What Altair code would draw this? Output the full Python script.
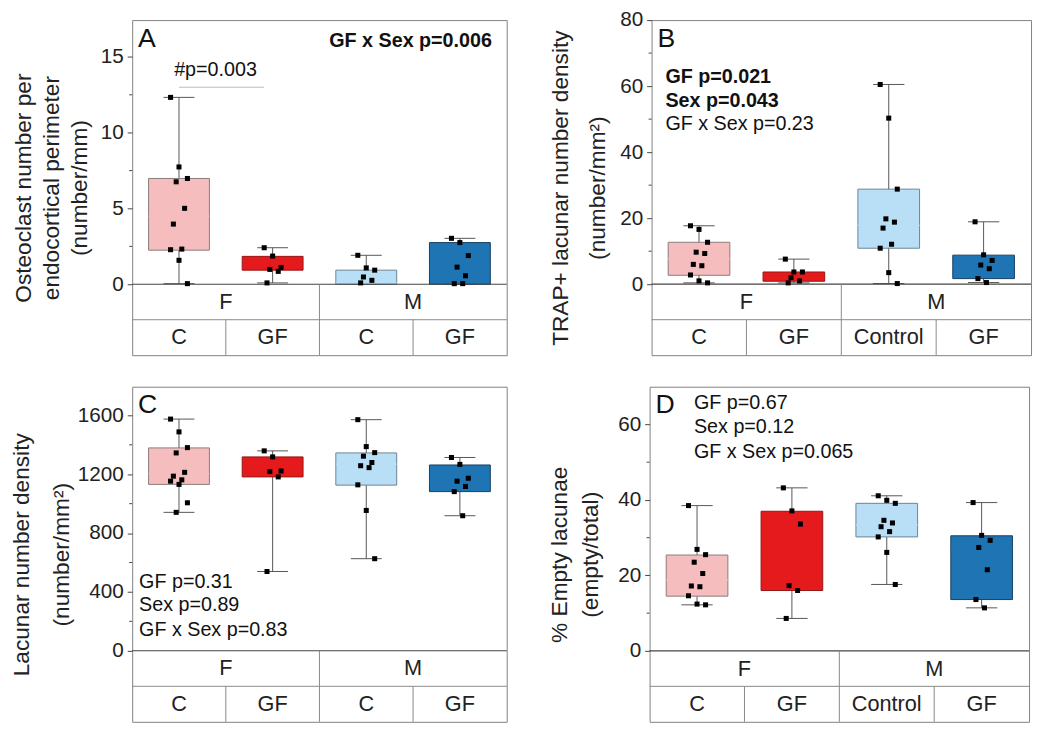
import altair as alt
import pandas as pd

FONT = "Liberation Sans"

# ---------------- data ----------------
group_keys = [0, 1, 2, 3]
sex_labels = ["F", "M"]
sub_labels_AC = ["C", "GF", "C", "GF"]
sub_labels_BD = ["C", "GF", "Control", "GF"]

fills = ["#f6bdbe", "#e41a1c", "#b9dff6", "#1f74b3"]
strokes = ["#8a7c7c", "#951515", "#6b8393", "#163e60"]

# Panel A: osteoclast number per endocortical perimeter
a_pts = [
    [12.33, 7.74, 6.98, 6.76, 5.01, 3.97, 2.32, 2.28, 1.58, 0.04],
    [2.41, 1.86, 1.11, 0.98, 0.85, 0.09],
    [1.91, 1.08, 0.93, 0.48, 0.26, 0.09],
    [3.03, 2.75, 1.89, 1.13, 0.56, 0.04, 0.04],
]
a_q1 = [2.25, 0.93, 0.0, 0.0]
a_med = [4.49, 1.08, 0.13, 1.11]
a_q3 = [6.98, 1.84, 0.93, 2.75]
a_lo = [0.04, 0.09, 0.0, 0.0]
a_hi = [12.33, 2.41, 1.91, 3.03]

# Panel B: TRAP+ lacunar number density
b_pts = [
    [17.7, 16.6, 12.7, 9.7, 9.3, 6.0, 5.6, 2.8, 1.0, 0.4],
    [7.6, 3.7, 3.7, 2.0, 1.0, 0.4],
    [60.5, 50.3, 28.8, 19.8, 18.8, 17.0, 12.1, 10.9, 3.5, 0.2],
    [18.9, 8.9, 7.2, 5.8, 4.7, 1.7, 0.5],
]
b_q1 = [2.7, 0.9, 10.9, 1.7]
b_med = [7.6, 2.4, 17.8, 5.8]
b_q3 = [12.7, 3.7, 28.8, 8.8]
b_lo = [0.4, 0.4, 0.2, 0.5]
b_hi = [17.7, 7.6, 60.5, 18.9]

# Panel C: lacunar number density
c_pts = [
    [1575, 1488, 1381, 1345, 1213, 1187, 1162, 1153, 1131, 1006, 941],
    [1359, 1318, 1222, 1218, 1182, 539],
    [1571, 1388, 1347, 1323, 1280, 1258, 1245, 1128, 954, 626],
    [1314, 1267, 1173, 1153, 1117, 1082, 918],
]
c_q1 = [1131, 1182, 1126, 1082]
c_med = [1204, 1218, 1269, 1151]
c_q3 = [1379, 1318, 1345, 1263]
c_lo = [941, 539, 626, 918]
c_hi = [1575, 1359, 1571, 1314]

# Panel D: % empty lacunae
d_pts = [
    [38.5, 26.9, 25.5, 23.5, 20.5, 17.2, 17.0, 14.6, 12.4, 12.2],
    [43.2, 37.1, 33.6, 17.3, 16.0, 8.6],
    [41.1, 39.9, 39.1, 34.6, 33.9, 32.9, 31.6, 30.2, 26.1, 17.6],
    [39.3, 30.6, 29.3, 27.4, 21.5, 13.6, 11.4],
]
d_q1 = [14.5, 16.0, 30.2, 13.6]
d_med = [18.8, 25.4, 33.4, 27.3]
d_q3 = [25.4, 37.0, 39.1, 30.5]
d_lo = [12.2, 8.6, 17.6, 11.4]
d_hi = [38.5, 43.2, 41.1, 39.3]

H = 340  # panel frame height (plot + category table)


def panel(pts, q1, med, q3, lo, hi, subs, ydom, major, minor, title,
          line_h, title_pad, width, letter, notes, sig=None):
    xs = alt.Scale(domain=[0, 4], nice=False, zero=False)
    ys = alt.Scale(domain=ydom, nice=False, zero=False)
    yaxis = alt.Axis(values=major, format="d", tickSize=5, tickColor="#444",
                     domain=False, grid=False, labelFontSize=21,
                     labelColor="#222", labelPadding=4, labelFont=FONT,
                     title=title, titleFontSize=23, titleFontWeight="normal",
                     titleColor="#222", titleFont=FONT, titlePadding=title_pad,
                     titleLineHeight=line_h)

    def X(f):
        return alt.X(f, type="quantitative", scale=xs, axis=None)

    def Y(f):
        return alt.Y(f, type="quantitative", scale=ys, axis=yaxis)

    col_fill = alt.Color("g:N", scale=alt.Scale(domain=group_keys, range=fills), legend=None)
    col_stroke = alt.Stroke("g:N", scale=alt.Scale(domain=group_keys, range=strokes), legend=None)
    col_line = alt.Color("g:N", scale=alt.Scale(domain=group_keys, range=strokes), legend=None)

    box = pd.DataFrame({"g": group_keys, "q1": q1, "med": med, "q3": q3,
                        "lo": lo, "hi": hi})
    box_base = alt.Chart(box).transform_calculate(
        xc="datum.g + 0.5", x1="datum.g + 0.5 - 0.325", x2="datum.g + 0.5 + 0.325",
        c1="datum.g + 0.5 - 0.165", c2="datum.g + 0.5 + 0.165")

    rows = []
    for g, vals in enumerate(pts):
        for i, v in enumerate(vals):
            rows.append({"g": g, "i": i, "v": v})
    pdf = pd.DataFrame(rows)

    whisk = box_base.mark_rule(color="#555", strokeWidth=1).encode(
        x=X("xc"), y=Y("lo"), y2="hi")
    cap_hi = box_base.mark_rule(color="#555", strokeWidth=1).encode(
        x=X("c1"), x2="c2", y=Y("hi"))
    cap_lo = box_base.mark_rule(color="#555", strokeWidth=1).encode(
        x=X("c1"), x2="c2", y=Y("lo"))
    rect = box_base.mark_rect(strokeWidth=1).encode(
        x=X("x1"), x2="x2", y=Y("q1"), y2="q3", color=col_fill, stroke=col_stroke)
    medl = box_base.mark_rule(strokeWidth=1.2).encode(
        x=X("x1"), x2="x2", y=Y("med"), color=col_line)
    points = alt.Chart(pdf).transform_calculate(
        xj="datum.g + 0.5 + ((datum.i * 3) % 7 - 3) * 0.03").mark_square(
        size=26, color="#000", opacity=1).encode(x=X("xj"), y=Y("v"))

    zero = alt.Chart(pd.DataFrame({"z": [0]})).mark_rule(color="#444", strokeWidth=1.2).encode(
        y=Y("z"), x=alt.value(0), x2=alt.value(width))
    minor_df = pd.DataFrame({"m": minor})
    minor_t = alt.Chart(minor_df).mark_rule(color="#444").encode(
        y=Y("m"), x=alt.value(-3), x2=alt.value(0))

    # category table (two rows below zero)
    ymin = ydom[0]
    tab_h = alt.Chart(pd.DataFrame({"y": [ymin / 2]})).mark_rule(color="#888").encode(
        y=Y("y"), x=alt.value(0), x2=alt.value(width))
    tab_v = alt.Chart(pd.DataFrame({"x": [1, 2, 3], "top": [ymin / 2, 0, ymin / 2],
                                    "bot": [ymin, ymin, ymin]})).mark_rule(color="#888").encode(
        x=X("x"), y=Y("top"), y2="bot")
    sex_df = pd.DataFrame({"x": [1, 3], "lab": sex_labels, "y": [ymin / 4, ymin / 4]})
    sex_t = alt.Chart(sex_df).mark_text(fontSize=22, font=FONT, color="#222",
                                        baseline="middle").encode(
        x=X("x"), y=Y("y"), text="lab:N")
    sub_df = pd.DataFrame({"x": [0.5, 1.5, 2.5, 3.5], "lab": subs,
                           "y": [ymin * 0.75] * 4})
    sub_t = alt.Chart(sub_df).mark_text(fontSize=22, font=FONT, color="#222",
                                        baseline="middle").encode(
        x=X("x"), y=Y("y"), text="lab:N")

    dummy = pd.DataFrame({"d": [0]})
    letter_t = alt.Chart(dummy).mark_text(fontSize=27, font=FONT, color="#111",
                                          align="left", baseline="middle").encode(
        x=alt.value(6), y=alt.value(19), text=alt.value(letter))
    layers = [whisk, cap_hi, cap_lo, rect, medl, zero, points, minor_t,
              tab_h, tab_v, sex_t, sub_t, letter_t]
    for (txt, px, py, bold, align) in notes:
        layers.append(alt.Chart(dummy).mark_text(
            fontSize=20, font=FONT, color="#111", align=align, baseline="middle",
            fontWeight="bold" if bold else "normal").encode(
            x=alt.value(px), y=alt.value(py), text=alt.value(txt)))
    if sig is not None:
        (sx1, sx2, sy, stxt, stx, sty) = sig
        layers.append(alt.Chart(pd.DataFrame({"a": [sx1], "b": [sx2], "y": [sy]})).mark_rule(
            color="#bbb").encode(x=X("a"), x2="b", y=Y("y")))
        layers.append(alt.Chart(pd.DataFrame({"x": [stx], "y": [sty], "t": [stxt]})).mark_text(
            fontSize=20, font=FONT, color="#111", baseline="middle").encode(
            x=X("x"), y=Y("y"), text="t:N"))
    return alt.layer(*layers).properties(width=width, height=H)


pA = panel(a_pts, a_q1, a_med, a_q3, a_lo, a_hi, sub_labels_AC,
           [-4.68, 17.43], [0, 5, 10, 15], [2.5, 7.5, 12.5],
           ["Osteoclast number per", "endocortical perimeter", "(number/mm)"],
           28.5, 9, 380, "A",
           [("GF x Sex p=0.006", 365, 21, True, "right")],
           sig=(0.5, 1.41, 13.0, "#p=0.003", 0.89, 14.1))
pB = panel(b_pts, b_q1, b_med, b_q3, b_lo, b_hi, sub_labels_BD,
           [-21.5, 80], [0, 20, 40, 60, 80], [10, 30, 50, 70],
           ["TRAP+ lacunar number density", "(number/mm²)"],
           38, 10, 385, "B",
           [("GF p=0.021", 14, 58, True, "left"),
            ("Sex p=0.043", 14, 82, True, "left"),
            ("GF x Sex p=0.23", 14, 106, False, "left")])
pC = panel(c_pts, c_q1, c_med, c_q3, c_lo, c_hi, sub_labels_AC,
           [-483, 1795], [0, 400, 800, 1200, 1600], [200, 600, 1000, 1400],
           ["Lacunar number density", "(number/mm²)"],
           40, 4, 380, "C",
           [("GF p=0.31", 7, 198, False, "left"),
            ("Sex p=0.89", 7, 222, False, "left"),
            ("GF x Sex p=0.83", 7, 247, False, "left")])
pD = panel(d_pts, d_q1, d_med, d_q3, d_lo, d_hi, sub_labels_BD,
           [-18.8, 70], [0, 20, 40, 60], [10, 30, 50],
           ["% Empty lacunae", "(empty/total)"],
           32, 15, 385, "D",
           [("GF p=0.67", 45, 17, False, "left"),
            ("Sex p=0.12", 45, 41, False, "left"),
            ("GF x Sex p=0.065", 45, 66, False, "left")])

row1 = alt.hconcat(pA, pB, spacing=41)
row2 = alt.hconcat(pC, pD, spacing=40)
chart = alt.vconcat(row1, row2, spacing=30).properties(
    padding={"left": 2, "top": -5, "right": 0, "bottom": 0}
).configure(font=FONT).configure_view(stroke="#808080", strokeWidth=1)

chart.save("out.html", embed_options={"renderer": "svg", "actions": False})
